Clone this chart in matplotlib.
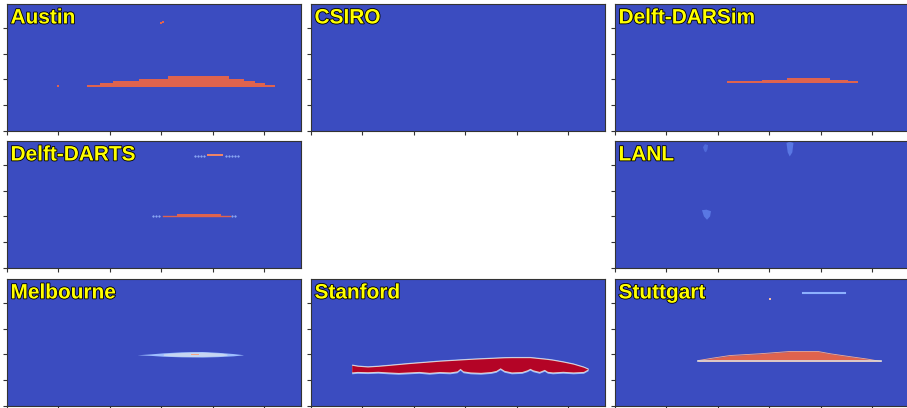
import numpy as np
import matplotlib.pyplot as plt
import matplotlib.patheffects as pe

plt.rcParams['font.family'] = ['Liberation Sans', 'DejaVu Sans']

# panel titles, row by row (None = empty slot)
titles = ['Austin', 'CSIRO', 'Delft-DARSim',
          'Delft-DARTS', None, 'LANL',
          'Melbourne', 'Stanford', 'Stuttgart']

# domain size (m)
x_max, y_max = 2.86, 1.23
x_ticks = [0, 0.5, 1.0, 1.5, 2.0, 2.5]
y_ticks = [0, 0.25, 0.5, 0.75, 1.0]

# --- Austin: stepped plume (edges + top of each step), bottom flat
austin_x = [0.781, 0.905, 1.028, 1.287, 1.563, 2.157, 2.305, 2.41, 2.51, 2.607]
austin_top = [0.441, 0.464, 0.483, 0.506, 0.528, 0.506, 0.483, 0.464, 0.441, 0.441]
austin_bot = 0.425
austin_dots_x = [0.496, 1.50, 1.515]
austin_dots_y = [0.438, 1.045, 1.06]

# --- Delft-DARSim
darsim_x = [1.085, 1.427, 1.67, 2.09, 2.267, 2.364]
darsim_top = [0.483, 0.498, 0.517, 0.498, 0.483, 0.483]
darsim_bot = 0.466

# --- Delft-DARTS: two thin layers
darts_low_x = [1.518, 2.169]
darts_low_y = 0.499
darts_lowthick_x = [1.654, 2.082]
darts_lowthick_y = [0.496, 0.522]
darts_up_x = [1.946, 2.101]
darts_up_y = [1.08, 1.102]
darts_dots_low = [1.42, 1.45, 1.48, 2.19, 2.218]
darts_dots_up = [1.83, 1.86, 1.89, 1.92, 2.13, 2.16, 2.19, 2.22, 2.247]

# --- LANL: faint blobs (polygons)
lanl_blob1_x = [0.856, 0.875, 0.905, 0.90, 0.885, 0.87]
lanl_blob1_y = [1.17, 1.20, 1.19, 1.15, 1.12, 1.13]
lanl_blob2_x = [1.668, 1.70, 1.736, 1.725, 1.70, 1.68]
lanl_blob2_y = [1.21, 1.225, 1.21, 1.12, 1.08, 1.12]
lanl_blob3_x = [0.846, 0.89, 0.934, 0.925, 0.895, 0.865]
lanl_blob3_y = [0.56, 0.565, 0.55, 0.50, 0.467, 0.50]

# --- Melbourne: diffuse lens
melb_x = [1.265, 1.40, 1.52, 1.70, 1.90, 2.05, 2.20, 2.296]
melb_top = [0.496, 0.505, 0.515, 0.525, 0.528, 0.52, 0.508, 0.497]
melb_bot = [0.496, 0.49, 0.482, 0.476, 0.474, 0.478, 0.486, 0.495]
melb_in_x = [1.52, 1.65, 1.80, 1.95, 2.10, 2.14]
melb_in_top = [0.505, 0.516, 0.522, 0.52, 0.51, 0.503]
melb_in_bot = [0.49, 0.482, 0.479, 0.481, 0.488, 0.492]
melb_spot_x = [1.79, 1.87]

# --- Stanford: dense plume with ragged bottom
stan_top_x = [0.396, 0.506, 0.671, 0.934, 1.255, 1.576, 1.907, 2.13, 2.325, 2.49, 2.617, 2.695]
stan_top_y = [0.399, 0.379, 0.389, 0.413, 0.438, 0.457, 0.472, 0.472, 0.452, 0.423, 0.394, 0.36]
stan_bot_x = [0.396, 0.45, 0.55, 0.65, 0.75, 0.85, 0.95, 1.05, 1.15, 1.25, 1.35, 1.42, 1.45,
              1.48, 1.55, 1.65, 1.75, 1.80, 1.84, 1.88, 1.95, 2.05, 2.10, 2.13, 2.16, 2.22,
              2.27, 2.30, 2.35, 2.45, 2.55, 2.65, 2.695]
stan_bot_y = [0.33, 0.335, 0.332, 0.336, 0.33, 0.325, 0.33, 0.335, 0.326, 0.334, 0.33, 0.34, 0.365,
              0.34, 0.33, 0.326, 0.334, 0.345, 0.37, 0.345, 0.33, 0.334, 0.35, 0.365, 0.35, 0.335,
              0.355, 0.336, 0.33, 0.336, 0.33, 0.335, 0.36]

# --- Stuttgart
stut_x = [0.81, 0.953, 1.119, 1.41, 1.702, 1.975, 2.10, 2.315, 2.451, 2.588]
stut_top = [0.44, 0.464, 0.489, 0.506, 0.528, 0.528, 0.505, 0.474, 0.455, 0.431]
stut_bot = 0.431
stut_line_x = [1.83, 2.237]
stut_line_y = 1.096
stut_dot = (1.508, 1.041)

cmap = plt.get_cmap('coolwarm')
bg = cmap(0.0)
red = cmap(0.87)

fig = plt.figure(figsize=(9.07, 4.08), dpi=100)
W, H = 907, 408
col_left = [7, 311, 615]
row_top = [4, 141, 279]
pw, ph = 294, 127

axes = []
for r in range(3):
    for c in range(3):
        ax = fig.add_axes([col_left[c] / W, 1 - (row_top[r] + ph) / H, pw / W, ph / H])
        axes.append(ax)

for ax, title in zip(axes, titles):
    if title is None:
        ax.axis('off')
        continue
    ax.set_facecolor(bg)
    ax.set_xlim(0, x_max)
    ax.set_ylim(0, y_max)
    ax.set_xticks(x_ticks)
    ax.set_yticks(y_ticks)
    ax.tick_params(direction='out', length=3, width=0.8, labelbottom=False, labelleft=False,
                   color='#333333')
    for s in ax.spines.values():
        s.set_color('#333333')
        s.set_linewidth(0.8)
    ax.text(0.012, 0.965, title, transform=ax.transAxes, ha='left', va='top',
            fontsize=15, fontweight='bold', color='#ffff00', zorder=10,
            path_effects=[pe.withStroke(linewidth=1.2, foreground='black')])

# Austin
ax = axes[0]
ax.fill_between(austin_x, austin_bot, austin_top, step='post', color=red, lw=0)
ax.scatter(austin_dots_x, austin_dots_y, s=3, color=red, marker='s', lw=0)

# Delft-DARSim
ax = axes[2]
ax.fill_between(darsim_x, darsim_bot, darsim_top, step='post', color=red, lw=0)

# Delft-DARTS
ax = axes[3]
ax.plot(darts_dots_low, [darts_low_y] * len(darts_dots_low), ls='none', marker='.',
        ms=1, color=cmap(0.3))
ax.plot(darts_dots_up, [1.083] * len(darts_dots_up), ls='none', marker='.',
        ms=1, color=cmap(0.3))
ax.plot(darts_low_x, [darts_low_y] * 2, color=red, lw=1)
ax.fill_between(darts_lowthick_x, darts_lowthick_y[0], darts_lowthick_y[1], color=red, lw=0)
ax.fill_between(darts_up_x, darts_up_y[0], darts_up_y[1], color=cmap(0.8), lw=0)

# LANL
ax = axes[5]
ax.fill(lanl_blob1_x, lanl_blob1_y, color=cmap(0.07), lw=0)
ax.fill(lanl_blob2_x, lanl_blob2_y, color=cmap(0.1), lw=0)
ax.fill(lanl_blob3_x, lanl_blob3_y, color=cmap(0.1), lw=0)

# Melbourne
ax = axes[6]
ax.fill_between(melb_x, melb_bot, melb_top, color=cmap(0.3), lw=0)
ax.fill_between(melb_in_x, melb_in_bot, melb_in_top, color=cmap(0.42), lw=0)
ax.fill_between(melb_spot_x, 0.493, 0.508, color=cmap(0.72), lw=0)

# Stanford
ax = axes[7]
sx = np.array(stan_top_x)
bx = np.array(stan_bot_x)
top_on_b = np.interp(bx, sx, stan_top_y)
ax.fill_between(bx, np.array(stan_bot_y) - 0.018, top_on_b + 0.008, color=cmap(0.3), lw=0)
ax.fill_between(bx, np.array(stan_bot_y) - 0.008, top_on_b + 0.004, color=cmap(0.55), lw=0)
ax.fill_between(bx, stan_bot_y, top_on_b - 0.004, color=cmap(1.0), lw=0)

# Stuttgart
ax = axes[8]
ax.fill_between(stut_x, stut_bot, stut_top, color=red, lw=0)
ax.plot(stut_x, stut_top, color=cmap(0.7), lw=0.6)
ax.plot([stut_x[0], stut_x[-1]], [stut_bot, stut_bot], color=cmap(0.5), lw=1.2)
ax.plot(stut_line_x, [stut_line_y] * 2, color=cmap(0.25), lw=1.5)
ax.scatter([stut_dot[0]], [stut_dot[1]], s=4, marker='s', color=cmap(0.65), lw=0)

fig.savefig('out.png', dpi=100)
